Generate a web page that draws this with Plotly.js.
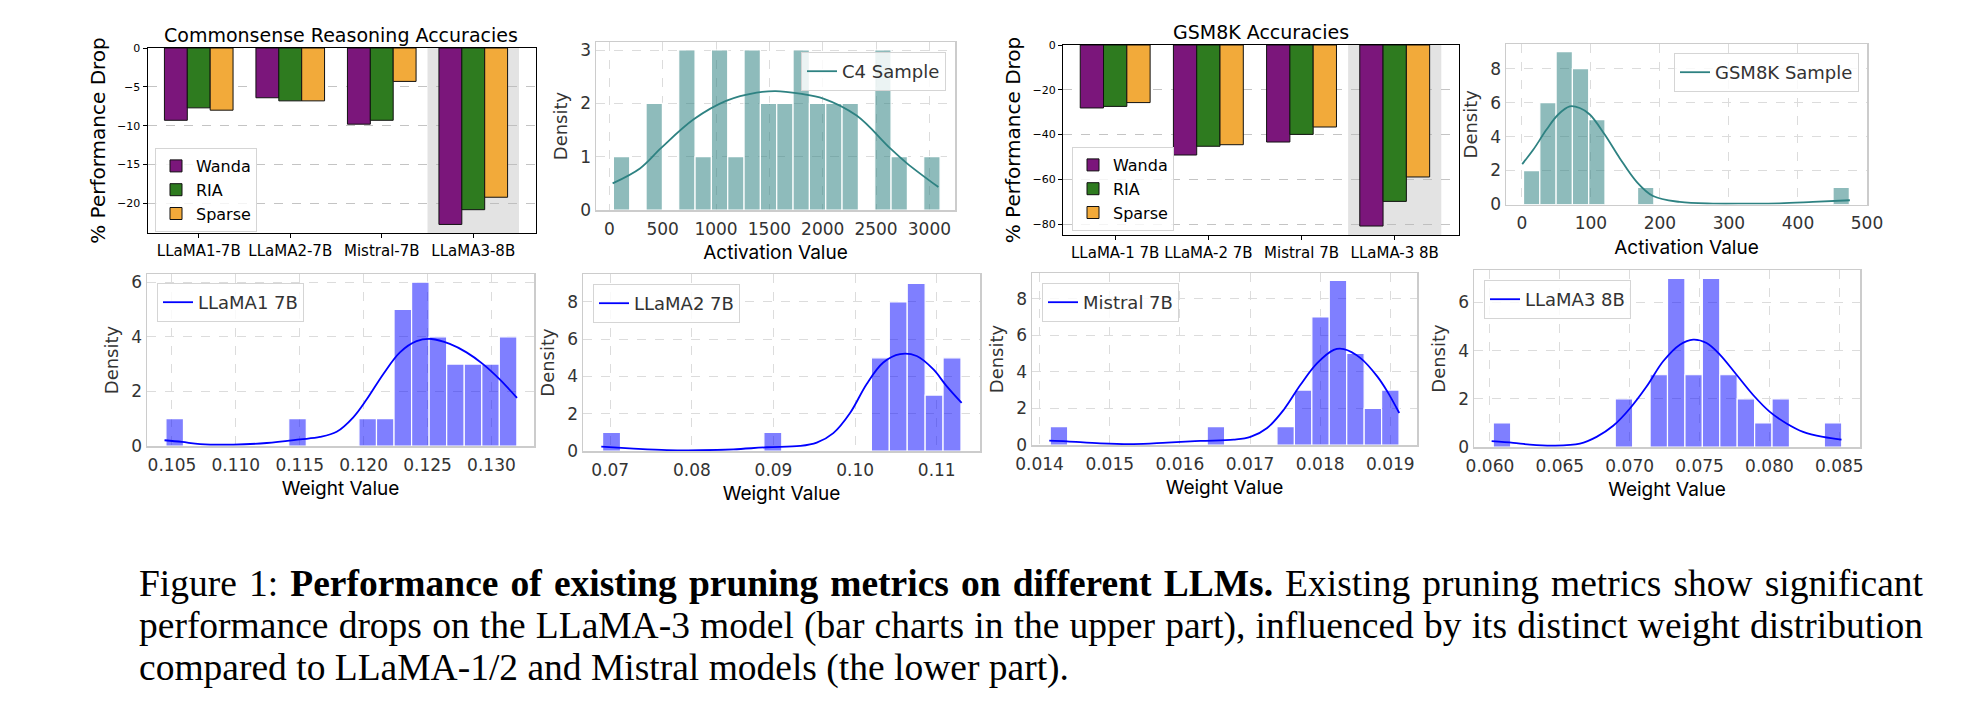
<!DOCTYPE html>
<html><head><meta charset="utf-8">
<script src="https://cdn.plot.ly/plotly-3.0.1.min.js"></script>
<style>
body{margin:0;background:#fff;}
#chart{position:absolute;left:0;top:0;width:1988px;height:720px;}
.cap{position:absolute;left:139px;width:1784px;font-family:'Liberation Serif','Times New Roman',serif;font-size:37.5px;line-height:42px;color:#000;white-space:nowrap;}
.just{text-align:justify;text-align-last:justify;white-space:normal;}
</style></head>
<body>
<div id="chart"></div>
<div class="cap just" style="top:563px;">Figure 1: <b>Performance of existing pruning metrics on different LLMs.</b> Existing pruning metrics show significant</div>
<div class="cap just" style="top:605px;">performance drops on the LLaMA-3 model (bar charts in the upper part), influenced by its distinct weight distribution</div>
<div class="cap" style="top:647px;">compared to LLaMA-1/2 and Mistral models (the lower part).</div>
<script>
// ---------- data ----------
const csCats = ['LLaMA1-7B','LLaMA2-7B','Mistral-7B','LLaMA3-8B'];
const csWanda = [-9.3,-6.4,-9.8,-22.7];
const csRIA = [-7.7,-6.8,-9.3,-20.8];
const csSparse = [-8.0,-6.8,-4.3,-19.2];

const gsmCats = ['LLaMA-1 7B','LLaMA-2 7B','Mistral 7B','LLaMA-3 8B'];
const gsmWanda = [-28.1,-49.1,-43.3,-80.8];
const gsmRIA = [-27.4,-45.2,-39.9,-69.8];
const gsmSparse = [-25.7,-44.5,-36.6,-58.9];

// histograms: first bin edge, bin width, counts
const c4BinStart = 38, c4BinWidth = 153.1;
const c4Counts = [1,0,2,0,3,1,3,1,3,2,2,3,2,2,2,0,3,1,0,1];
const c4KdeX = [31,287,484,791,1100,1381,1559,1787,2006,2318,2631,2787,3084];
const c4KdeY = [0.50,0.78,1.16,1.70,2.05,2.20,2.23,2.18,2.09,1.77,1.16,0.88,0.43];

const gsBinStart = 2.4, gsBinWidth = 23.6;
const gsCounts = [2,6,9,8,5,0,0,1,0,0,0,0,0,0,0,0,0,0,0,1];
const gsKdeX = [0.5,16.4,35.7,52.6,69.5,83.9,98.4,120,141.8,166,190,228.7,276.9,325.2,373.4,421.6,475.2];
const gsKdeY = [2.38,3.22,4.41,5.30,5.78,5.68,5.30,4.12,2.73,1.35,0.50,0.15,0.05,0.05,0.07,0.15,0.25];

const l1BinStart = 0.10453, l1BinWidth = 0.001373;
const l1Counts = [1,0,0,0,0,0,0,1,0,0,0,1,1,5,6,4,3,3,3,4];
const l1KdeX = [0.10442,0.10578,0.10721,0.10981,0.11242,0.11502,0.11659,0.11789,0.11919,0.12023,0.12153,0.12284,0.12414,0.12531,0.12674,0.12805,0.12934,0.13065,0.13200];
const l1KdeY = [0.21,0.15,0.07,0.05,0.11,0.24,0.33,0.52,1.05,1.70,2.63,3.43,3.84,3.92,3.74,3.43,3.00,2.44,1.76];

const l2BinStart = 0.06906, l2BinWidth = 0.0021955;
const l2Counts = [1,0,0,0,0,0,0,0,0,1,0,0,0,0,0,5,8,9,3,5];
const l2KdeX = [0.06890,0.07285,0.07694,0.08102,0.08509,0.08918,0.09326,0.09530,0.09733,0.09938,0.10142,0.10345,0.10550,0.10754,0.10957,0.11121,0.11305];
const l2KdeY = [0.23,0.13,0.05,0.04,0.09,0.20,0.27,0.45,0.96,2.04,3.60,4.75,5.20,5.10,4.39,3.48,2.58];

const msBinStart = 0.014152, msBinWidth = 0.0002486;
const msCounts = [1,0,0,0,0,0,0,0,0,1,0,0,0,1,3,7,9,5,2,3];
const msKdeX = [0.014138,0.014391,0.014866,0.015341,0.015817,0.016292,0.016767,0.017006,0.017244,0.017481,0.017719,0.017957,0.018194,0.018337,0.018575,0.018813,0.018956,0.019127];
const msKdeY = [0.24,0.20,0.09,0.05,0.13,0.22,0.29,0.44,0.93,1.93,3.29,4.47,5.20,5.24,4.75,3.75,2.93,1.75];

const l3BinStart = 0.060239, l3BinWidth = 0.0012467;
const l3Counts = [1,0,0,0,0,0,0,2,0,3,7,3,7,3,2,1,2,0,0,1];
const l3KdeX = [0.060122,0.061667,0.062861,0.064528,0.066438,0.067632,0.068820,0.070014,0.071209,0.072396,0.073591,0.074542,0.075501,0.076452,0.077647,0.078834,0.080029,0.081223,0.082411,0.083841,0.085157];
const l3KdeY = [0.24,0.17,0.10,0.06,0.14,0.42,0.88,1.60,2.51,3.56,4.25,4.46,4.32,3.84,3.00,2.16,1.46,0.98,0.63,0.42,0.31];

// ---------- helpers ----------
const W = 1988, H = 720;
const dx = (a,b) => [a/W, b/W];
const dy = (t,b) => [1-b/H, 1-t/H];
const colWanda = '#7b167b', colRIA = '#2e7b1f', colSparse = '#f2aa3a';
const teal = '#2e8282', blue = '#0000ff';

function edges(start, width, counts){ return counts.map((_,i)=> start + i*width); }

const traces = [];
function barSet(cats, w, r, s, xa, ya, lg){
  [['Wanda',w,colWanda],['RIA',r,colRIA],['Sparse',s,colSparse]].forEach(([n,v,c])=>{
    traces.push({type:'bar', name:n, x:cats, y:v, xaxis:xa, yaxis:ya, legend:lg,
      marker:{color:c, line:{color:'#111', width:1}}});
  });
}
function histSet(start,width,counts,kx,ky,barCol,lineCol,name,xa,ya,lg){
  traces.push({type:'bar', x:edges(start,width,counts), y:counts, width:width, offset:0,
    xaxis:xa, yaxis:ya, showlegend:false, hoverinfo:'x+y',
    marker:{color:barCol, line:{color:'#ffffff', width:1.2}}});
  traces.push({type:'scatter', mode:'lines', x:kx, y:ky, name:name, xaxis:xa, yaxis:ya, legend:lg,
    line:{color:lineCol, width:1.8, shape:'spline', smoothing:1}});
}

barSet(csCats, csWanda, csRIA, csSparse, 'x', 'y', 'legend');
histSet(c4BinStart,c4BinWidth,c4Counts,c4KdeX,c4KdeY,'rgba(46,130,130,0.54)',teal,'C4 Sample','x2','y2','legend3');
barSet(gsmCats, gsmWanda, gsmRIA, gsmSparse, 'x3', 'y3', 'legend2');
histSet(gsBinStart,gsBinWidth,gsCounts,gsKdeX,gsKdeY,'rgba(46,130,130,0.54)',teal,'GSM8K Sample','x4','y4','legend4');
histSet(l1BinStart,l1BinWidth,l1Counts,l1KdeX,l1KdeY,'rgba(0,0,255,0.5)',blue,'LLaMA1 7B','x5','y5','legend5');
histSet(l2BinStart,l2BinWidth,l2Counts,l2KdeX,l2KdeY,'rgba(0,0,255,0.5)',blue,'LLaMA2 7B','x6','y6','legend6');
histSet(msBinStart,msBinWidth,msCounts,msKdeX,msKdeY,'rgba(0,0,255,0.5)',blue,'Mistral 7B','x7','y7','legend7');
histSet(l3BinStart,l3BinWidth,l3Counts,l3KdeX,l3KdeY,'rgba(0,0,255,0.5)',blue,'LLaMA3 8B','x8','y8','legend8');

// ---------- axes ----------
const mplFont = 'DejaVu Sans';
const hFont = 'DejaVu Sans';
function barX(dom, yref){ return {domain:dom, type:'category', range:[-0.56,3.69], anchor:yref,
  showline:true, linecolor:'#000', linewidth:1, mirror:true, ticks:'outside', ticklen:4, tickcolor:'#000',
  showgrid:false, zeroline:false, tickfont:{family:mplFont, size:15, color:'#000'}}; }
function barY(dom, xref, rng, dt){ return {domain:dom, range:rng, dtick:dt, anchor:xref,
  showline:true, linecolor:'#000', linewidth:1, mirror:true, ticks:'outside', ticklen:4, tickcolor:'#000',
  showgrid:true, gridcolor:'#b5b5b5', griddash:'dash', gridwidth:0.8, zeroline:false,
  tickfont:{family:mplFont, size:11, color:'#000'},
  title:{text:'% Performance Drop', font:{family:mplFont, size:20, color:'#000'}, standoff:6}}; }
function hAx(dom, ref, rng, dt, fmt, title, isX){
  const a = {domain:dom, range:rng, dtick:dt, tick0:0, anchor:ref,
    showline:true, linecolor:'#cccccc', linewidth:1.5, mirror:true, ticks:'',
    showgrid:true, gridcolor:'#dcdcdc', griddash:'dash', gridwidth:1, zeroline:false,
    tickfont:{family:hFont, size:17, color:'#333'}};
  if (fmt) a.tickformat = fmt;
  if (isX) { a.ticklabelstandoff = 3;
    a.title = {text:title, font:{family:'Inter', size:19, color:'#000'}, standoff:8}; }
  else a.title = {text:title, font:{family:hFont, size:18, color:'#333'}, standoff:8};
  return a;
}

const legBase = {bgcolor:'rgba(255,255,255,0.82)', bordercolor:'#d5d5d5', borderwidth:1};
function leg(x,y,xa,size,fam,col){ return Object.assign({}, legBase, {x:x/W, y:1-y/H, xanchor:xa, yanchor:'top',
  font:{family:fam, size:size, color:col}}); }

const layout = {
  width:W, height:H, margin:{l:0,r:0,t:0,b:0},
  paper_bgcolor:'rgba(0,0,0,0)', plot_bgcolor:'rgba(0,0,0,0)',
  barmode:'group', bargap:0.25, bargroupgap:0,
  xaxis: barX(dx(147.5,536.4),'y'),
  yaxis: barY(dy(48,233),'x',[-23.8,0],5),
  xaxis2: hAx(dx(596,955),'y2',[-125,3240],500,null,'Activation Value',true),
  yaxis2: hAx(dy(42,210),'x2',[0,3.15],1,null,'Density',false),
  xaxis3: barX(dx(1063,1459),'y3'),
  yaxis3: barY(dy(45,235),'x3',[-84.8,0],20),
  xaxis4: hAx(dx(1506,1867),'y4',[-23,500],100,null,'Activation Value',true),
  yaxis4: hAx(dy(44,204.5),'x4',[0,9.45],2,null,'Density',false),
  xaxis5: hAx(dx(147,534),'y5',[0.10305,0.13333],0.005,'.3f','Weight Value',true),
  yaxis5: hAx(dy(274,446),'x5',[0,6.3],2,null,'Density',false),
  xaxis6: hAx(dx(583,980),'y6',[0.06666,0.1153],0.01,'.2f','Weight Value',true),
  yaxis6: hAx(dy(274,451),'x6',[0,9.5],2,null,'Density',false),
  xaxis7: hAx(dx(1032,1417),'y7',[0.013892,0.01938],0.001,'.3f','Weight Value',true),
  yaxis7: hAx(dy(273,445),'x7',[0,9.4],2,null,'Density',false),
  xaxis8: hAx(dx(1474,1860),'y8',[0.05886,0.08648],0.005,'.3f','Weight Value',true),
  yaxis8: hAx(dy(270,447),'x8',[0,7.35],2,null,'Density',false),
  legend: leg(155,148,'left',16,mplFont,'#000'),
  legend2: leg(1072,147,'left',16,mplFont,'#000'),
  legend3: leg(946,52,'right',18,hFont,'#333'),
  legend4: leg(1859,53,'right',18,hFont,'#333'),
  legend5: leg(157,283,'left',18,hFont,'#333'),
  legend6: leg(593,284,'left',18,hFont,'#333'),
  legend7: leg(1042,283,'left',18,hFont,'#333'),
  legend8: leg(1484,280,'left',18,hFont,'#333'),
  shapes:[
    {type:'rect', xref:'x', yref:'y domain', x0:2.5, x1:3.5, y0:0, y1:1, fillcolor:'#e3e3e3', line:{width:0}, layer:'below'},
    {type:'rect', xref:'x3', yref:'y3 domain', x0:2.5, x1:3.5, y0:0, y1:1, fillcolor:'#e3e3e3', line:{width:0}, layer:'below'}
  ],
  annotations:[
    {text:'Commonsense Reasoning Accuracies', x:341/W, y:1-35/H, xref:'paper', yref:'paper', showarrow:false,
     xanchor:'center', yanchor:'middle', font:{family:mplFont, size:19, color:'#000'}},
    {text:'GSM8K Accuracies', x:1261/W, y:1-32/H, xref:'paper', yref:'paper', showarrow:false,
     xanchor:'center', yanchor:'middle', font:{family:mplFont, size:19, color:'#000'}}
  ]
};

Plotly.newPlot('chart', traces, layout, {displayModeBar:false, staticPlot:true});
</script>
</body></html>
